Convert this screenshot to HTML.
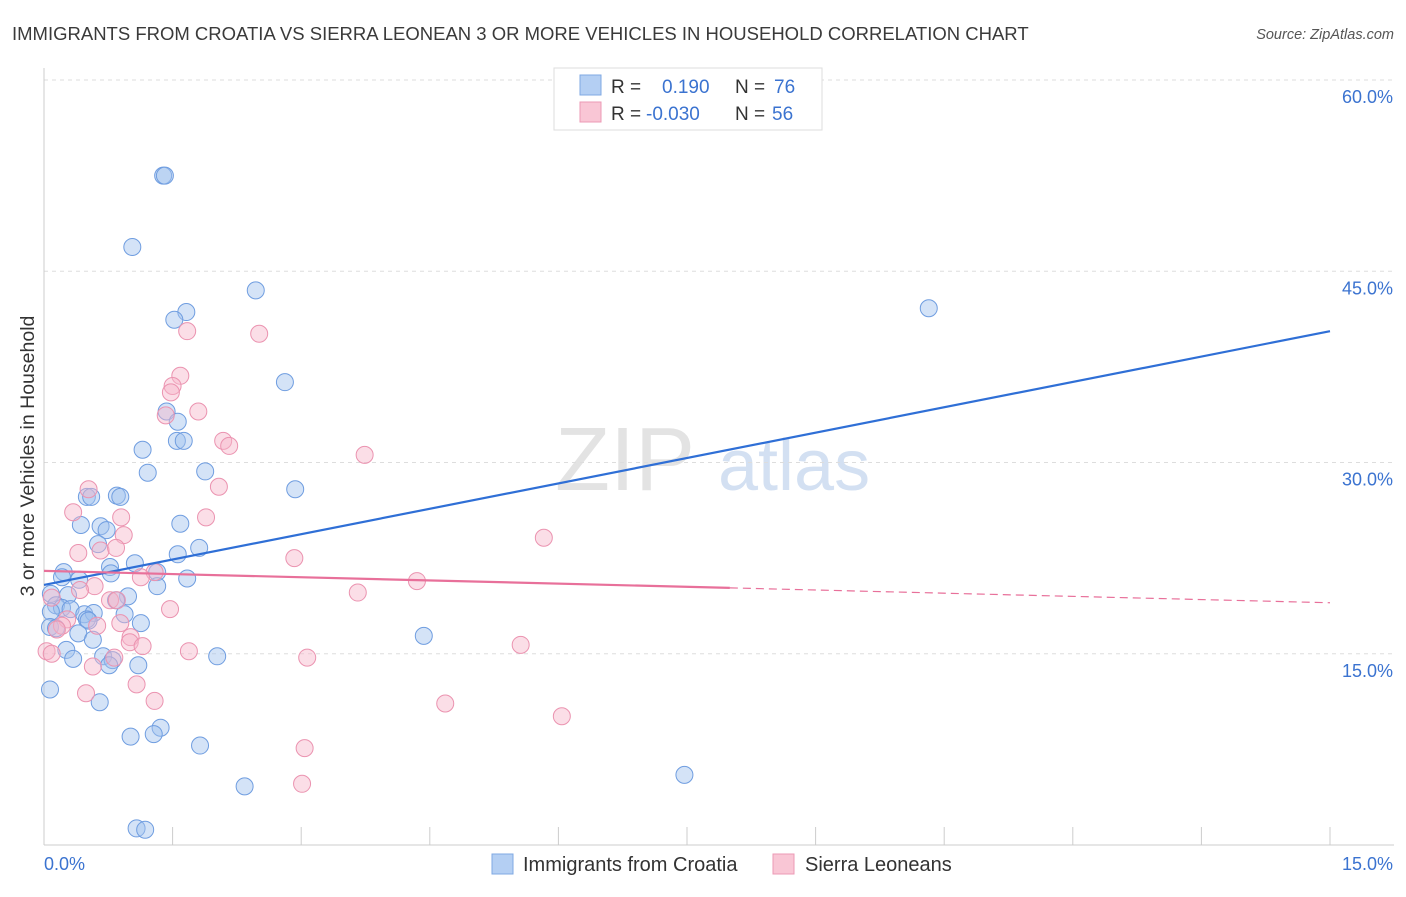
<!DOCTYPE html>
<html><head><meta charset="utf-8">
<style>
body{margin:0;background:#fff;font-family:"Liberation Sans",sans-serif;}
svg text{font-family:"Liberation Sans",sans-serif;}
</style></head>
<body>
<svg id="chart" width="1406" height="892" viewBox="0 0 1406 892" xmlns="http://www.w3.org/2000/svg">
<text x="12" y="40" font-size="18.5" fill="#3a3a3a">IMMIGRANTS FROM CROATIA VS SIERRA LEONEAN 3 OR MORE VEHICLES IN HOUSEHOLD CORRELATION CHART</text>
<text x="1394" y="39" font-size="14.5" fill="#555" text-anchor="end" font-style="italic">Source: ZipAtlas.com</text>
<g>
<text x="555" y="490" font-size="90" fill="#ddd" font-family="Liberation Serif" opacity="0.8">ZIP</text>
<text x="718" y="490" font-size="72" fill="#c9d9ef" opacity="0.8">atlas</text>
</g>
<g id="grid"></g>
<g id="axes"></g>
<text transform="translate(34,456) rotate(-90)" font-size="19.5" fill="#333" text-anchor="middle">3 or more Vehicles in Household</text>
<g id="pts"></g>
<g id="lines"></g>
<g>
<rect x="554" y="68" width="268" height="62" fill="#fff" stroke="#ddd"/>
<rect x="580" y="75" width="21" height="20" fill="#b4cff3" stroke="#7fa8e3"/>
<rect x="580" y="102" width="21" height="20" fill="#f9c6d5" stroke="#ec9ab5"/>
<text x="611" y="93" font-size="19" fill="#333">R =</text>
<text x="662" y="93" font-size="19" fill="#3b73d0">0.190</text>
<text x="735" y="93" font-size="19" fill="#333">N =</text>
<text x="774" y="93" font-size="19" fill="#3b73d0">76</text>
<text x="611" y="120" font-size="19" fill="#333">R =</text>
<text x="646" y="120" font-size="19" fill="#3b73d0">-0.030</text>
<text x="735" y="120" font-size="19" fill="#333">N =</text>
<text x="772" y="120" font-size="19" fill="#3b73d0">56</text>
</g>
<g>
<rect x="492" y="854" width="21" height="20" fill="#b4cff3" stroke="#7fa8e3"/>
<text x="523" y="871" font-size="20" fill="#333">Immigrants from Croatia</text>
<rect x="773" y="854" width="21" height="20" fill="#f9c6d5" stroke="#ec9ab5"/>
<text x="805" y="871" font-size="20" fill="#333">Sierra Leoneans</text>
</g>
</svg>
<script>
const yTicks=[15,30,45,60];
const yTickLabels=["15.0%","30.0%","45.0%","60.0%"];
const xTickLabels=["0.0%","15.0%"];
const blueX=[1.39,1.41,1.03,2.47,1.66,1.52,10.32,2.81,1.43,1.56,1.55,1.63,1.15,1.88,1.21,2.93,0.50,0.55,0.85,0.89,0.43,1.59,0.66,0.73,0.63,1.81,1.56,1.06,0.77,0.23,0.78,1.67,1.32,0.21,0.41,1.32,0.08,0.28,0.98,0.84,0.14,0.21,0.31,0.08,0.47,0.58,0.50,0.94,0.52,1.13,0.07,0.14,0.40,0.57,0.26,0.34,0.69,0.80,0.76,1.10,2.02,4.43,0.07,0.65,1.36,1.28,1.01,1.82,7.47,2.34,1.08,1.18];
const blueY=[52.5,52.5,46.9,43.5,41.8,41.2,42.1,36.3,34.0,33.2,31.7,31.7,31.0,29.3,29.2,27.9,27.3,27.3,27.4,27.3,25.1,25.2,25.0,24.7,23.6,23.3,22.8,22.1,21.8,21.4,21.3,20.9,21.4,21.0,20.8,20.3,19.7,19.6,19.5,19.2,18.8,18.6,18.5,18.3,18.1,18.2,17.7,18.1,17.6,17.4,17.1,17.0,16.6,16.1,15.3,14.6,14.8,14.5,14.1,14.1,14.8,16.4,12.2,11.2,9.2,8.7,8.5,7.8,5.5,4.6,1.3,1.2];
const pinkX=[2.51,1.67,1.59,1.50,1.48,1.80,1.42,2.09,2.16,3.74,2.04,0.52,0.34,0.90,1.89,0.93,0.66,0.84,0.40,2.92,5.83,1.29,1.13,4.35,3.66,0.59,0.42,0.77,0.09,1.47,0.27,0.21,0.62,0.89,0.15,1.01,1.00,1.15,1.69,0.82,5.56,3.07,0.03,0.09,0.57,1.08,0.49,1.29,4.68,6.04,3.04,3.01,0.85];
const pinkY=[40.1,40.3,36.8,36.0,35.5,34.0,33.7,31.7,31.3,30.6,28.1,27.9,26.1,25.7,25.7,24.3,23.1,23.3,22.9,22.5,24.1,21.4,21.0,20.7,19.8,20.3,20.0,19.2,19.4,18.5,17.7,17.2,17.2,17.4,16.9,16.3,15.9,15.6,15.2,14.7,15.7,14.7,15.2,15.0,14.0,12.6,11.9,11.3,11.1,10.1,7.6,4.8,19.2];
const blueTrend=[20.4,40.3];
const pinkTrend=[21.5,19.0];
const pinkSolidEnd=8.0;

const NS="http://www.w3.org/2000/svg";
const X0=44,X1=1330,Y0=845,YT=80;
const xs=v=>X0+(v/15)*(X1-X0);
const ys=v=>Y0-(v/60)*(Y0-YT);
function mk(tag,attrs,parent){const e=document.createElementNS(NS,tag);for(const k in attrs)e.setAttribute(k,attrs[k]);parent.appendChild(e);return e;}
const grid=document.getElementById('grid'),axes=document.getElementById('axes');
yTicks.forEach((t,i)=>{
  const g=mk('line',{x1:X0,x2:1394,y1:ys(t),y2:ys(t),stroke:'#ddd','stroke-dasharray':'4,4'},grid);
  
  
  const l=mk('text',{x:1393,y:ys(t)+23,'font-size':18,fill:'#3b73d0','text-anchor':'end'},axes);
  l.textContent=yTickLabels[i];
  
  
});
const ax=mk('line',{x1:X0,x2:1394,y1:Y0,y2:Y0,stroke:'#ccc'},axes);


const ay=mk('line',{x1:X0,x2:X0,y1:68,y2:Y0,stroke:'#ccc'},axes);


for(let i=0;i<=10;i++){
  const t=mk('line',{x1:xs(i*1.5),x2:xs(i*1.5),y1:Y0,y2:Y0-18,stroke:'#ccc'},axes);
  
  
}
[[0,'start',X0],[15,'end',1393]].forEach((d,i)=>{
  const l=mk('text',{x:d[2],y:870,'font-size':18,fill:'#3b73d0','text-anchor':d[1]},axes);
  l.textContent=xTickLabels[i];
  
  
});
const pts=document.getElementById('pts');
blueX.forEach((v,i)=>{
  const c=mk('circle',{cx:xs(v),cy:ys(blueY[i]),r:8.5,fill:'rgba(160,192,238,0.45)',stroke:'#6f9de0','stroke-width':1},pts);
  
  
});
pinkX.forEach((v,i)=>{
  const c=mk('circle',{cx:xs(v),cy:ys(pinkY[i]),r:8.5,fill:'rgba(247,182,202,0.45)',stroke:'#eb93b0','stroke-width':1},pts);
  
  
});
const lines=document.getElementById('lines');
const bl=mk('line',{x1:xs(0),y1:ys(blueTrend[0]),x2:xs(15),y2:ys(blueTrend[1]),stroke:'#2f6fd6','stroke-width':2.2},lines);


const pe=pinkTrend[0]+(pinkTrend[1]-pinkTrend[0])*pinkSolidEnd/15;
const pl=mk('line',{x1:xs(0),y1:ys(pinkTrend[0]),x2:xs(pinkSolidEnd),y2:ys(pe),stroke:'#e8709a','stroke-width':2.2},lines);


const pd=mk('line',{x1:xs(pinkSolidEnd),y1:ys(pe),x2:xs(15),y2:ys(pinkTrend[1]),stroke:'#e8709a','stroke-width':1.2,'stroke-dasharray':'8,5'},lines);


</script>
</body></html>
